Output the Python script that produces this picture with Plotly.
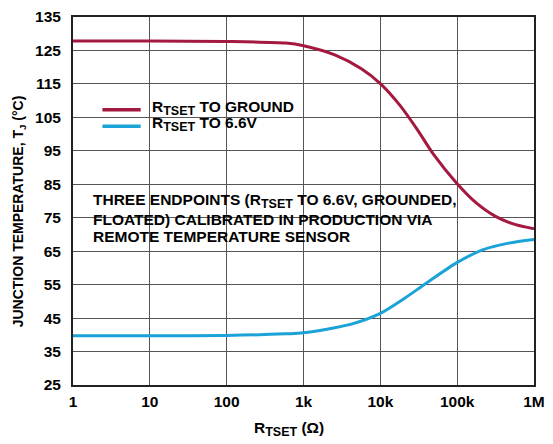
import plotly.graph_objects as go

# Data
r_ground = [1, 10, 100, 590, 1000, 2600, 5600, 10000, 18000, 30000, 49000, 98000, 174000, 316000, 562000, 1000000]
t_ground = [127.8, 127.8, 127.7, 127.2, 126.4, 123.6, 119.6, 115.1, 108.6, 101.5, 94.0, 85.4, 79.6, 75.4, 73.0, 71.7]

r_66 = [1, 10, 100, 590, 1000, 4200, 10000, 20000, 40000, 98000, 214000, 468000, 1000000]
t_66 = [39.7, 39.7, 39.8, 40.3, 40.6, 43.2, 46.4, 50.7, 55.5, 61.5, 65.4, 67.4, 68.5]

x_tickvals = [1, 10, 100, 1000, 10000, 100000, 1000000]
x_ticktext = ["1", "10", "100", "1k", "10k", "100k", "1M"]
y_tickvals = [25, 35, 45, 55, 65, 75, 85, 95, 105, 115, 125, 135]

RED = "#A3193F"
BLUE = "#1BA3D8"
FONT = "Liberation Sans, Arial, sans-serif"
SUB = '<sub><span style="font-size:12.5px">TSET</span></sub>'

W, H = 553, 444
L, R, T, B = 73, 10, 8, 59
PW, PH = W - L - R, H - T - B


def px(x):
    return (x - L) / PW


def py(y):
    return (H - B - y) / PH


fig = go.Figure()
fig.add_trace(go.Scatter(x=r_ground, y=t_ground, mode="lines",
                         line=dict(color=RED, width=3, shape="spline", smoothing=0.8),
                         name="R TO GROUND", showlegend=False))
fig.add_trace(go.Scatter(x=r_66, y=t_66, mode="lines",
                         line=dict(color=BLUE, width=3, shape="spline", smoothing=0.8),
                         name="R TO 6.6V", showlegend=False))

axis_common = dict(showgrid=True, gridcolor="#555555", gridwidth=1,
                   showline=True, linecolor="#222222", linewidth=2, mirror=True,
                   ticks="", zeroline=False,
                   tickfont=dict(family=FONT, size=15.5, color="black", weight="bold"))

fig.update_layout(
    width=W, height=H,
    margin=dict(l=L, r=R, t=T, b=B),
    paper_bgcolor="white", plot_bgcolor="white",
    font=dict(family=FONT, size=15.5, color="black", weight="bold"),
    showlegend=False,
    xaxis=dict(type="log", range=[0, 6], tickvals=x_tickvals, ticktext=x_ticktext,
               ticklabelstandoff=1, ticklabeloverflow="allow", **axis_common),
    yaxis=dict(range=[25, 135], tickvals=y_tickvals, ticklabelstandoff=7, **axis_common),
)

# white boxes behind legend and note (between grid and traces)
fig.add_shape(type="rect", xref="paper", yref="paper", x0=px(95), x1=px(305), y0=py(134), y1=py(88),
              fillcolor="white", line=dict(width=0), layer="between")
fig.add_shape(type="rect", xref="paper", yref="paper", x0=px(85), x1=px(445), y0=py(247), y1=py(181),
              fillcolor="white", line=dict(width=0), layer="between")

# legend samples
fig.add_shape(type="line", xref="paper", yref="paper", x0=px(103), x1=px(142), y0=py(103), y1=py(103),
              line=dict(color=RED, width=3.5))
fig.add_shape(type="line", xref="paper", yref="paper", x0=px(103), x1=px(142), y0=py(120), y1=py(120),
              line=dict(color=BLUE, width=3.5))
legend_texts = ["R" + SUB + " TO GROUND", "R" + SUB + " TO 6.6V"]
for txt, yy in zip(legend_texts, [101, 118]):
    fig.add_annotation(xref="paper", yref="paper", x=px(151), y=py(yy), xanchor="left", yanchor="middle",
                       showarrow=False, text=txt, align="left",
                       font=dict(family=FONT, size=15.5, color="black", weight="bold"))

note_lines = ["THREE ENDPOINTS (R" + SUB + " TO 6.6V, GROUNDED,",
              "FLOATED) CALIBRATED IN PRODUCTION VIA",
              "REMOTE TEMPERATURE SENSOR"]
for txt, yy in zip(note_lines, [197, 215, 233]):
    fig.add_annotation(xref="paper", yref="paper", x=px(91), y=py(yy), xanchor="left", yanchor="middle",
                       showarrow=False, text=txt, align="left",
                       font=dict(family=FONT, size=15.5, color="black", weight="bold"))

# axis titles
fig.add_annotation(xref="paper", yref="paper", x=px(293), y=py(430), xanchor="center", yanchor="middle",
                   showarrow=False, text="R" + SUB + " (Ω)",
                   font=dict(family=FONT, size=15.5, color="black", weight="bold"))
fig.add_annotation(xref="paper", yref="paper", x=px(18), y=py(207), xanchor="center", yanchor="middle",
                   showarrow=False, textangle=-90, text="JUNCTION TEMPERATURE, T<sub>J</sub> (°C)",
                   font=dict(family=FONT, size=14, color="black", weight="bold"))

fig.write_html("out.html")
